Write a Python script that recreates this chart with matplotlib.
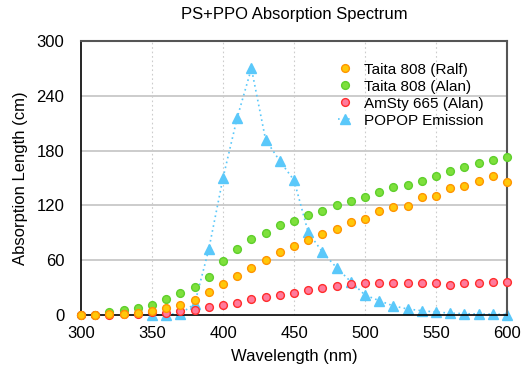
import numpy as np
import matplotlib.pyplot as plt

plt.rcParams['font.family'] = ['Liberation Sans', 'DejaVu Sans']

wavelength = list(range(300, 601, 10))

taita_ralf = [0, 0.5, 1, 1.5, 2, 4.7, 7.3, 10.6, 16.4, 24.8, 33.6, 43, 52, 60, 69, 75.5,
              82, 89, 94.5, 101.5, 105.5, 114, 118, 119, 129.6, 130.3, 138.7, 141.6, 147, 152.6, 145.3]
taita_alan = [0.5, 0.5, 3.3, 5, 7.3, 11, 17, 24, 31, 42, 59, 72.7, 83, 90, 98, 103,
              109.5, 114, 120.5, 125, 129.6, 135, 140, 142.4, 146.8, 152.6, 157.7, 161.8, 166, 169.8, 172.7]
amsty_alan = [0, 0, 0.5, 1, 1.5, 3.6, 2.5, 4.4, 5.5, 8.4, 10.6, 13.5, 17.2, 19.4, 21.9, 24.4,
              27, 29.6, 32, 33.6, 34.7, 35, 35.4, 35, 35, 35, 32.5, 34.7, 35.4, 36, 36.5]

popop_wl = list(range(350, 601, 10))
popop_emission = [0, 0.5, 1.5, 12, 72, 150, 216, 270, 192, 168.6, 147.6, 90.5, 69, 51.8, 36.5,
                  21.9, 15.7, 9.9, 6.6, 4.7, 3.3, 2, 1.5, 1, 1, 0.5]

fig = plt.figure(figsize=(5.25, 3.68), dpi=100)
ax = fig.add_axes([81/525, 1 - 315/368, 426/525, 274/368])

# grid
for yv in [60, 120, 180, 240]:
    ax.axhline(yv, color='#c8c8c8', lw=1.3, zorder=0)
for xv in [350, 400, 450, 500, 550]:
    ax.axvline(xv, color='#cccccc', lw=0.8, ls=(0, (1.5, 2.5)), zorder=0)

h4, = ax.plot(popop_wl, popop_emission, ls=(0, (1, 2)), color='#5ac8fa', lw=1.2,
              marker='^', ms=6.5, mfc='#5ac8fa', mec='#5ac8fa', label='POPOP Emission', zorder=2,
              clip_on=False)
h2, = ax.plot(wavelength, taita_alan, ls='none', marker='o', ms=5.6, mfc='#7ee03c', mec='#5fcf2c',
              mew=1.0, label='Taita 808 (Alan)', zorder=3, clip_on=False)
h3, = ax.plot(wavelength, amsty_alan, ls='none', marker='o', ms=5.6, mfc='#ff7b9c', mec='#ff2d2d',
              mew=1.0, label='AmSty 665 (Alan)', zorder=4, clip_on=False)
h1, = ax.plot(wavelength, taita_ralf, ls='none', marker='o', ms=5.6, mfc='#ffc80a', mec='#ff9500',
              mew=1.0, label='Taita 808 (Ralf)', zorder=5, clip_on=False)

ax.set_xlim(300, 600)
ax.set_ylim(0, 300)
ax.set_xticks([300, 350, 400, 450, 500, 550, 600])
ax.set_yticks([0, 60, 120, 180, 240, 300])
ax.tick_params(length=0, labelsize=12, pad=8)
ax.tick_params(axis='y', pad=12)

for s in ['left', 'bottom']:
    ax.spines[s].set_color('black')
    ax.spines[s].set_linewidth(1.2)
for s in ['top', 'right']:
    ax.spines[s].set_color('#555555')
    ax.spines[s].set_linewidth(1.5)

ax.set_xlabel('Wavelength (nm)', fontsize=12, labelpad=6)
ax.set_ylabel('Absorption Length (cm)', fontsize=12, labelpad=6)
ax.set_title('PS+PPO Absorption Spectrum', fontsize=12, pad=16)

ax.legend(handles=[h1, h2, h3, h4], loc='upper right', bbox_to_anchor=(0.97, 0.96),
          frameon=False, fontsize=11, handlelength=0.9, handletextpad=0.8,
          labelspacing=0.2, borderpad=0.2)

fig.savefig('out.png', dpi=100)
